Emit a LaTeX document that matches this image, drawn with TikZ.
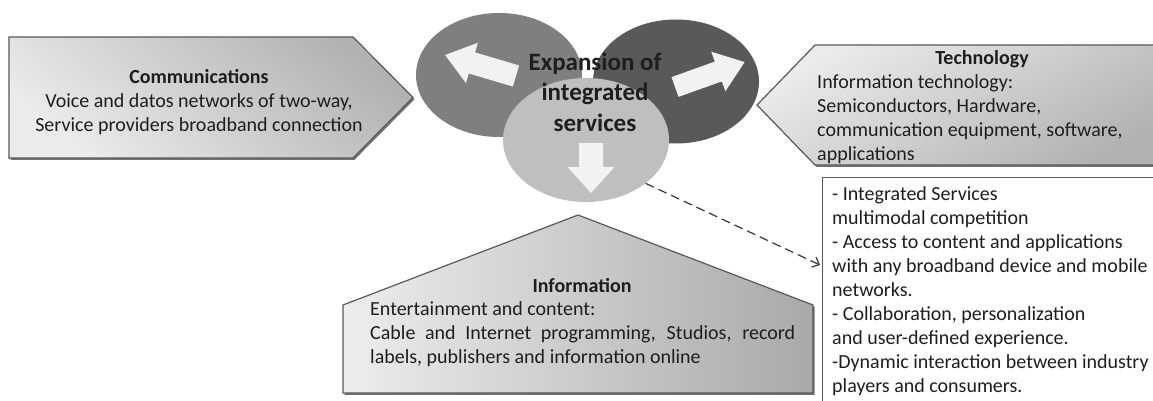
\documentclass[tikz,border=0pt]{standalone}
\usepackage{fontspec}
\setmainfont{Carlito}
\usetikzlibrary{shapes.geometric,shadows,arrows.meta}
\definecolor{edgegray}{HTML}{595959}
\definecolor{lightfill}{HTML}{EBEBEB}
\definecolor{darkfill}{HTML}{B2B2B2}
\definecolor{ellleft}{HTML}{7F7F7F}
\definecolor{ellright}{HTML}{595959}
\definecolor{ellbottom}{HTML}{BFBFBF}
\definecolor{arrowfill}{HTML}{F2F2F2}
\definecolor{txt}{HTML}{1E1E1E}
\begin{document}
\begin{tikzpicture}[x=1pt,y=-1pt,
  panel/.style={draw=edgegray, line width=1.2pt,
    drop shadow={shadow xshift=1.5pt,shadow yshift=-1.8pt,opacity=0.55,fill=black}},
  bodytext/.style={font=\fontsize{20}{24}\selectfont, inner sep=0pt, text=txt},
  titletext/.style={font=\fontsize{20}{24}\selectfont\bfseries, inner sep=0pt, text=txt},
  bubble/.style={ellipse, inner sep=0pt, minimum width=166pt, minimum height=124pt},
  blockarrow/.style={fill=arrowfill},
  link/.style={draw=black!78, line width=1.2pt, dash pattern=on 9pt off 5pt, -{Straight Barb[length=6pt,width=11pt]}}
]
\useasboundingbox (0,0) rectangle (1153,401);
\fill[white] (0,0) rectangle (1153,401);

% Communications pentagon
\path[panel, top color=darkfill, bottom color=lightfill, shading angle=-40]
  (9,37) -- (353,37) -- (413,97.5) -- (353,158) -- (9,158) -- cycle;
% Technology pentagon
\path[panel, top color=lightfill, bottom color=darkfill, shading angle=30]
  (1170,45) -- (815,45) -- (757,105) -- (815,165) -- (1170,165) -- cycle;
% Information house
\path[panel, left color=lightfill!90!white, right color=darkfill!95!black]
  (343,305) -- (578,215) -- (813,305) -- (813,393) -- (343,393) -- cycle;

% text box
\node[draw=edgegray, line width=0.9pt, fill=white, anchor=north west,
  minimum width=360pt, minimum height=250pt, inner sep=0pt] (box) at (822,177) {};

% bubbles
\node[bubble, fill=ellleft] (lell) at (499,75) {};
\node[bubble, fill=ellright] (rell) at (676,81.5) {};
\node[bubble, fill=ellbottom] (mell) at (586,140) {};

% block arrows
\begin{scope}[shift={(516,76)}, rotate=163.5]
  \path[blockarrow] (0,-11) -- (46,-11) -- (46,-21) -- (74,0) -- (46,21) -- (46,11) -- (0,11) -- cycle;
\end{scope}
\begin{scope}[shift={(675,87)}, rotate=19.7]
  \path[blockarrow] (0,-10.5) -- (46,-10.5) -- (46,-21) -- (74,0) -- (46,21) -- (46,10.5) -- (0,10.5) -- cycle;
\end{scope}
\begin{scope}[shift={(591,143)}, rotate=-90]
  \path[blockarrow] (0,-12) -- (24,-12) -- (24,-23.5) -- (50,0) -- (24,23.5) -- (24,12) -- (0,12) -- cycle;
\end{scope}

% centre text
\node[align=center, inner sep=0pt, text=txt, font=\fontsize{25}{30.5}\selectfont\bfseries] (ctext) at (595,92)
  {Expansion of\\integrated\\services};

% Communications text
\node[bodytext, align=center] (commtext) at (199,102)
  {\textbf{Communications}\\Voice and datos networks of two-way,\\Service providers broadband connection};

% Technology text
\node[titletext] (techtitle) at (982,59) {Technology};
\node[bodytext, align=left, anchor=west] (techtext) at (817,119)
  {Information technology:\\Semiconductors, Hardware,\\communication equipment, software,\\applications};

% Information text
\node[titletext] (infotitle) at (582,286) {Information};
\node[bodytext, align=left, anchor=west] (infotext) at (370,334)
  {Entertainment and content:\\\makebox[425pt][s]{Cable and Internet programming, Studios, record}\\labels, publishers and information online};

% box text
\node[bodytext, align=left, anchor=west] (boxtext) at (832,291)
  {- Integrated Services\\multimodal competition\\- Access to content and applications\\with any broadband device and mobile\\networks.\\- Collaboration, personalization\\and user-defined experience.\\-Dynamic interaction between industry\\players and consumers.};

% dashed connector
\draw[link] (mell.-36) -- ([xshift=-2pt,yshift=-88pt]box.north west);
\end{tikzpicture}
\end{document}
